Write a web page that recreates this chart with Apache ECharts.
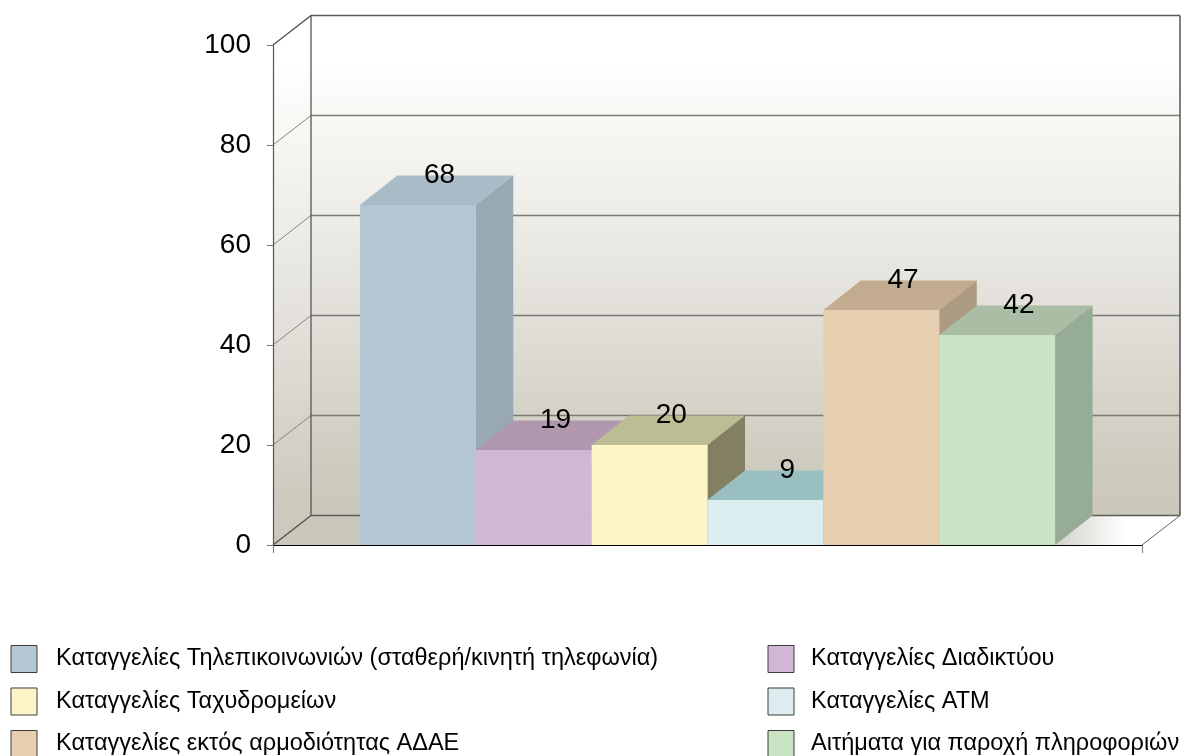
<!DOCTYPE html>
<html>
<head>
<meta charset="utf-8">
<style>html,body{margin:0;padding:0;background:#fff}#c{width:1182px;height:756px}</style>
<script src="https://cdn.jsdelivr.net/npm/echarts@6/dist/echarts.min.js"></script>
</head>
<body>
<div id="c"></div>
<script>
const categories = [''];
const yTicks = [0, 20, 40, 60, 80, 100];
const seriesNames = [
  'Καταγγελίες Τηλεπικοινωνιών (σταθερή/κινητή τηλεφωνία)',
  'Καταγγελίες Διαδικτύου',
  'Καταγγελίες Ταχυδρομείων',
  'Καταγγελίες ΑΤΜ',
  'Καταγγελίες εκτός αρμοδιότητας ΑΔΑΕ',
  'Αιτήματα για παροχή πληροφοριών'
];
const telecomValues = [68];
const internetValues = [19];
const postalValues = [20];
const atmValues = [9];
const outOfScopeValues = [47];
const infoRequestValues = [42];
const seriesValues = [telecomValues, internetValues, postalValues, atmValues, outOfScopeValues, infoRequestValues];

const frontColors = ['#b3c6d4', '#d1b7d3', '#fdf5c8', '#dcedf0', '#e6cfb0', '#cae3c5'];
const topColors   = ['#a9bbc7', '#b097ae', '#bcbc95', '#9abfc1', '#c2ab8f', '#a9bea5'];
const sideColors  = ['#98a9b3', '#98869a', '#827f63', '#8aa5a8', '#ad9a83', '#97ac95'];

const DX = 38, DY = -29.5, BAR_DX = 37.5, BAR_DY = -29.5;
const BAND_FILL = 0.8;
const LG = echarts.graphic.LinearGradient;
const wallStops = [
  {offset: 0, color: '#ffffff'}, {offset: 0.09, color: '#ffffff'}, {offset: 0.2, color: '#f8f8f5'},
  {offset: 0.4, color: '#eeece7'}, {offset: 0.6, color: '#e1dfd8'}, {offset: 0.8, color: '#d4d2c7'},
  {offset: 0.91, color: '#cdcabe'}, {offset: 1, color: '#cbc8bb'}
];
const floorStops = [
  {offset: 0, color: '#cbc8bb'}, {offset: 0.8, color: '#cbc8bb'}, {offset: 0.87, color: '#d8d6ce'},
  {offset: 0.94, color: '#ffffff'}, {offset: 1, color: '#ffffff'}
];

function line(x1, y1, x2, y2, stroke, w) {
  return {type: 'line', shape: {x1, y1, x2, y2}, style: {stroke, lineWidth: w}, silent: true};
}
function poly(points, fill, z2) {
  return {type: 'polygon', shape: {points}, style: {fill}, z2: z2 || 0, silent: true};
}

function renderWalls(params, api) {
  const cs = params.coordSys;
  const xL = cs.x, xR = cs.x + cs.width;
  const y0 = api.coord([0, 0])[1], yT = api.coord([0, 100])[1];
  const c = [
    poly([[xL, y0], [xL + DX, y0 + DY], [xR + DX, y0 + DY], [xR, y0]], new LG(0, 0, 1, 0, floorStops)),
    poly([[xL, yT], [xL + DX, yT + DY], [xL + DX, y0 + DY], [xL, y0]], new LG(0, 0, 0, 1, wallStops)),
    poly([[xL + DX, yT + DY], [xR + DX, yT + DY], [xR + DX, y0 + DY], [xL + DX, y0 + DY]], new LG(0, 0, 0, 1, wallStops))
  ];
  yTicks.forEach(t => {
    const y = api.coord([0, t])[1];
    const major = t === 0 || t === 100;
    c.push(line(xL, y, xL + DX, y + DY, major ? '#4a4a4a' : '#85857f', major ? 1.2 : 1));
    c.push(line(xL + DX, y + DY, xR + DX, y + DY, major ? '#5a5a5a' : '#7a7a74', t === 0 ? 1.3 : 1.4));
  });
  c.push(line(xL + DX, yT + DY, xL + DX, y0 + DY, '#555', 1.3));
  c.push(line(xR + DX, yT + DY, xR + DX, y0 + DY, '#555', 1.5));
  c.push(line(xR, y0, xR + DX, y0 + DY, '#666', 1));
  return {type: 'group', children: c};
}

function renderBar(params, api) {
  const i = params.seriesIndex - 1;
  const band = api.size([1, 0])[0];
  const w = band * BAND_FILL / seriesNames.length;
  const center = api.coord([api.value(0), 0])[0];
  const x0 = center - w * seriesNames.length / 2 + w * i;
  const x1 = x0 + w;
  const yB = api.coord([0, 0])[1];
  const yV = api.coord([0, api.value(1)])[1];
  return {type: 'group', children: [
    poly([[x0, yV], [x0 + BAR_DX, yV + BAR_DY], [x1 + BAR_DX, yV + BAR_DY], [x1, yV]], topColors[i]),
    poly([[x1, yV], [x1 + BAR_DX, yV + BAR_DY], [x1 + BAR_DX, yB + BAR_DY], [x1, yB]], sideColors[i]),
    poly([[x0, yV], [x1, yV], [x1, yB], [x0, yB]], frontColors[i]),
    {type: 'text', z2: 100, silent: true,
      style: {text: String(api.value(1)), x: (x0 + x1) / 2 + BAR_DX / 2 + 3, y: yV + BAR_DY,
        align: 'center', verticalAlign: 'middle',
        font: '28px "Liberation Sans", Arial, sans-serif', fill: '#000'}}
  ]};
}

const legendItem = i => ({name: seriesNames[i], icon: 'rect',
  itemStyle: {color: frontColors[i], borderColor: '#3c3c3c', borderWidth: 1}});
const legendText = gap => ({fontFamily: '"Liberation Sans", Arial, sans-serif', fontSize: 23.5, lineHeight: 24,
  color: '#000', padding: [3, 0, 0, gap]});
const legendBase = {
  orient: 'vertical', top: 645, height: 200, padding: 0, itemWidth: 26, itemHeight: 27, itemGap: 14.5, selectedMode: false
};

const series = [{
  type: 'custom', name: 'walls', z: 1, silent: true, renderItem: renderWalls, data: [[0, 0]],
  encode: {x: 0, y: 1}
}];
seriesNames.forEach((name, i) => series.push({
  type: 'custom', name, z: 2 + i, silent: true, renderItem: renderBar,
  itemStyle: {color: frontColors[i]},
  encode: {x: 0, y: 1},
  data: seriesValues[i].map((v, k) => [k, v])
}));

const chart = echarts.init(document.getElementById('c'), null, {renderer: 'canvas'});
chart.setOption({
  animation: false,
  backgroundColor: '#fff',
  grid: {left: 273, right: 40, top: 45, bottom: 211},
  xAxis: {
    type: 'category', data: categories, z: 20,
    axisLine: {lineStyle: {color: '#000', width: 1.2}},
    axisTick: {show: true, length: 8, lineStyle: {color: '#777'}},
    axisLabel: {show: false}
  },
  yAxis: {
    type: 'value', min: 0, max: 100, interval: 20, z: 20,
    splitLine: {show: false},
    axisLine: {show: true, lineStyle: {color: '#555', width: 1.2}},
    axisTick: {show: true, length: 6, lineStyle: {color: '#777'}},
    axisLabel: {fontFamily: '"Liberation Sans", Arial, sans-serif', fontSize: 28, color: '#000', margin: 22, padding: [5, 0, 0, 0]}
  },
  legend: [
    Object.assign({}, legendBase, {left: 10.5, textStyle: legendText(14), data: [0, 2, 4].map(legendItem)}),
    Object.assign({}, legendBase, {left: 767.5, textStyle: legendText(12), data: [1, 3, 5].map(legendItem)})
  ],
  series
});
</script>
</body>
</html>
